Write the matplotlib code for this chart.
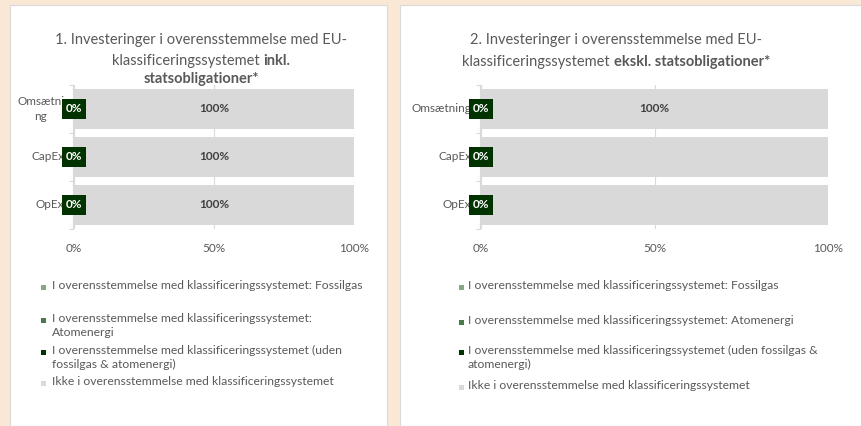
import matplotlib
matplotlib.use('Agg')
import matplotlib.pyplot as plt
from matplotlib.patches import Rectangle

plt.rcParams['font.family'] = ['Lato', 'DejaVu Sans']

W, H = 861, 426

categories = ['Omsætning', 'CapEx', 'OpEx']
tick_labels_1 = ['Omsætni\nng', 'CapEx', 'OpEx']
tick_labels_2 = ['Omsætning', 'CapEx', 'OpEx']

series_names = [
    'I overensstemmelse med klassificeringssystemet: Fossilgas',
    'I overensstemmelse med klassificeringssystemet: Atomenergi',
    'I overensstemmelse med klassificeringssystemet (uden fossilgas & atomenergi)',
    'Ikke i overensstemmelse med klassificeringssystemet',
]
series_colors = ['#86A886', '#4A7A4A', '#003300', '#D9D9D9']

# 1. inkl. statsobligationer
fossil_1 = [0, 0, 0]
atom_1 = [0, 0, 0]
aligned_1 = [0, 0, 0]
not_aligned_1 = [100, 100, 100]
show_grey_label_1 = [True, True, True]

# 2. ekskl. statsobligationer
fossil_2 = [0, 0, 0]
atom_2 = [0, 0, 0]
aligned_2 = [0, 0, 0]
not_aligned_2 = [100, 100, 100]
show_grey_label_2 = [True, False, False]

legend_1 = [
    'I overensstemmelse med klassificeringssystemet: Fossilgas',
    'I overensstemmelse med klassificeringssystemet:\nAtomenergi',
    'I overensstemmelse med klassificeringssystemet (uden\nfossilgas & atomenergi)',
    'Ikke i overensstemmelse med klassificeringssystemet',
]
legend_2 = [
    'I overensstemmelse med klassificeringssystemet: Fossilgas',
    'I overensstemmelse med klassificeringssystemet: Atomenergi',
    'I overensstemmelse med klassificeringssystemet (uden fossilgas &\natomenergi)',
    'Ikke i overensstemmelse med klassificeringssystemet',
]

TEXT = '#595959'


def fx(x):
    return x / W


def fy(y):
    return 1 - y / H


def title_line(fig, xc, y, parts, size=10.5):
    texts = []
    for s, weight in parts:
        t = fig.text(0, fy(y), s, fontsize=size, fontweight=weight,
                     color=TEXT, ha='left', va='center')
        texts.append(t)
    renderer = fig.canvas.get_renderer()
    widths = [t.get_window_extent(renderer).width for t in texts]
    x = xc - sum(widths) / 2
    for t, w in zip(texts, widths):
        t.set_x(fx(x))
        x += w


def draw_bars(ax, series, grey_labels, tick_labels):
    y = list(range(len(categories)))
    left = [0] * len(categories)
    for vals, color in zip(series, series_colors):
        ax.barh(y, vals, left=left, height=0.83, color=color, zorder=2)
        left = [a + b for a, b in zip(left, vals)]

    # category labels (drawn as text so the wrapped one can be centred)
    for i, lab in enumerate(tick_labels):
        ax.annotate(lab, xy=(0, i), xycoords=('axes fraction', 'data'),
                    xytext=(-7, 0), textcoords='offset points', ha='right',
                    va='center', multialignment='center', fontsize=8.5,
                    color=TEXT, linespacing=1.5, zorder=3)

    # labels for the aligned series (dark box at 0)
    aligned = series[2]
    for i, v in enumerate(aligned):
        ax.text(v / 2, i, f'{v:.0f}%', ha='center', va='center', fontsize=8.5,
                fontweight='bold', color='white', zorder=5,
                bbox=dict(boxstyle='square,pad=0.35', fc=series_colors[2], ec='none'))
    # labels for the not aligned series
    start = [a + b + c for a, b, c in zip(series[0], series[1], series[2])]
    for i, v in enumerate(series[3]):
        if grey_labels[i]:
            ax.text(start[i] + v / 2, i, f'{v:.0f}%', ha='center', va='center',
                    fontsize=8.5, fontweight='bold', color='#404040', zorder=4)

    ax.set_xlim(0, 100)
    ax.set_ylim(len(categories) - 0.5, -0.5)
    ax.set_xticks([0, 50, 100])
    ax.set_xticklabels(['0%', '50%', '100%'])
    ax.set_yticks([])
    ax.set_yticks([-0.5, 0.5, 1.5, 2.5], minor=True)
    ax.tick_params(axis='y', which='minor', length=3, color='#D9D9D9', width=0.8)
    ax.tick_params(axis='x', length=0, pad=10, labelsize=8.5, labelcolor=TEXT)
    ax.grid(axis='x', color='#D9D9D9', lw=0.8, zorder=0)
    ax.set_axisbelow(True)
    for s in ['top', 'right', 'bottom']:
        ax.spines[s].set_visible(False)
    ax.spines['left'].set_color('#D9D9D9')
    ax.spines['left'].set_linewidth(0.8)
    ax.spines['left'].set_position(('outward', 1))
    ax.set_facecolor('none')


def draw_legend(fig, labels, marker_x, text_x, ys):
    for lab, color, y in zip(labels, series_colors, ys):
        fig.patches.append(Rectangle((fx(marker_x - 2.5), fy(y + 2.5)), fx(5), 5 / H,
                                     transform=fig.transFigure, fc=color, ec='none'))
        fig.text(fx(text_x), fy(y - 7), lab, fontsize=8.7, color=TEXT,
                 ha='left', va='top', linespacing=1.32)


fig = plt.figure(figsize=(W / 100, H / 100), dpi=100)
fig.patch.set_facecolor('#FAE8D7')

# white panels
fig.patches.append(Rectangle((fx(10), 0), fx(377), fy(5), transform=fig.transFigure,
                             fc='white', ec='#D9D9D9', lw=0.8, zorder=-1))
fig.patches.append(Rectangle((fx(400), 0), fx(470), fy(5), transform=fig.transFigure,
                             fc='white', ec='#D9D9D9', lw=0.8, zorder=-1))

ax1 = fig.add_axes([fx(74), fy(229), fx(354 - 74), (229 - 85) / H])
ax2 = fig.add_axes([fx(481), fy(229), fx(828 - 481), (229 - 85) / H])

draw_bars(ax1, [fossil_1, atom_1, aligned_1, not_aligned_1], show_grey_label_1, tick_labels_1)
draw_bars(ax2, [fossil_2, atom_2, aligned_2, not_aligned_2], show_grey_label_2, tick_labels_2)

title_line(fig, 201, 40, [('1. Investeringer i overensstemmelse med EU-', 'normal')])
title_line(fig, 201, 61, [('klassificeringssystemet ', 'normal'), ('inkl.', 'bold')])
title_line(fig, 201, 79, [('statsobligationer*', 'bold')])

title_line(fig, 616, 40, [('2. Investeringer i overensstemmelse med EU-', 'normal')])
title_line(fig, 616, 62, [('klassificeringssystemet ', 'normal'), ('ekskl. statsobligationer*', 'bold')])

draw_legend(fig, legend_1, 43, 52, [287, 320, 352, 383])
draw_legend(fig, legend_2, 462, 468, [287, 322, 352, 387])

fig.savefig('out.png', dpi=100)
